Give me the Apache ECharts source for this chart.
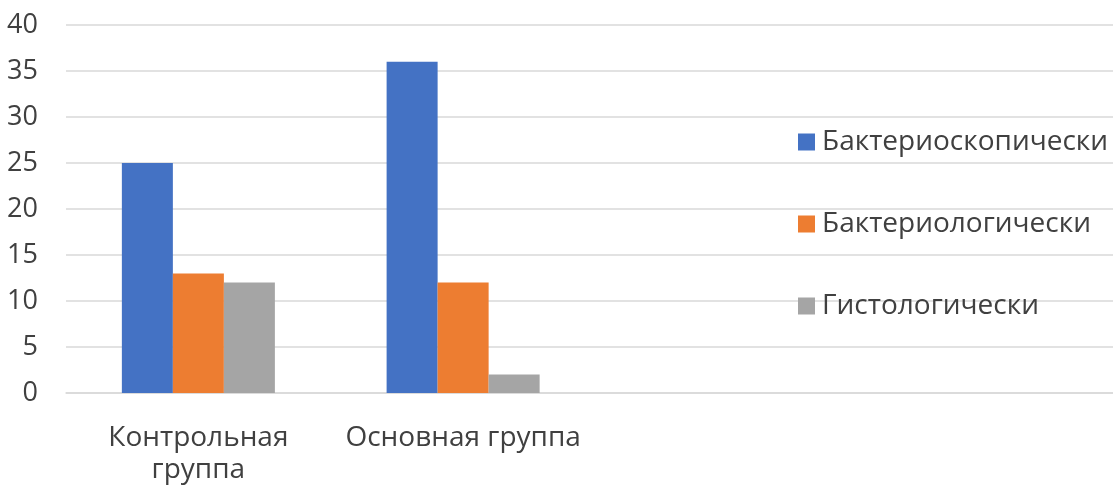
<!DOCTYPE html>
<html>
<head>
<meta charset="utf-8">
<script src="https://cdn.jsdelivr.net/npm/echarts@6/dist/echarts.min.js"></script>
<style>html,body{margin:0;padding:0;background:#fff;overflow:hidden}#c{width:1113px;height:488px}</style>
</head>
<body>
<div id="c"></div>
<script>
const categories = ['Контрольная\nгруппа', 'Основная группа', '', ''];
const seriesNames = ['Бактериоскопически', 'Бактериологически', 'Гистологически'];
const bacterioscopic = [25, 36, null, null];
const bacteriological = [13, 12, null, null];
const histological = [12, 2, null, null];
const yTicks = [0, 5, 10, 15, 20, 25, 30, 35, 40];

const colors = ['#4472C4', '#ED7D31', '#A5A5A5'];
const values = [bacterioscopic, bacteriological, histological];
const font = '"Open Sans", sans-serif';

const chart = echarts.init(document.getElementById('c'));
chart.setOption({
  animation: false,
  backgroundColor: '#fff',
  grid: { left: 66, width: 1059, top: 25, bottom: 95, containLabel: false, outerBoundsMode: 'none' },
  legend: {
    orient: 'vertical', left: 793, top: 122,
    itemWidth: 17, itemHeight: 17, itemGap: 52, icon: 'rect',
    textStyle: { fontFamily: font, fontSize: 28, lineHeight: 30, color: '#404040', padding: [0, 0, 0, 2] },
    data: seriesNames
  },
  xAxis: {
    type: 'category', data: categories,
    axisLine: { lineStyle: { color: '#d9d9d9', width: 1.5 } },
    axisTick: { show: false },
    axisLabel: { fontFamily: font, fontSize: 28, color: '#404040', margin: 29, lineHeight: 32, interval: 0 }
  },
  yAxis: {
    type: 'value', min: yTicks[0], max: yTicks[yTicks.length - 1], interval: 5,
    axisLine: { show: false }, axisTick: { show: false },
    splitLine: { lineStyle: { color: '#d9d9d9', width: 1.5 } },
    axisLabel: { fontFamily: font, fontSize: 27, color: '#404040', margin: 28 }
  },
  series: seriesNames.map((n, i) => ({
    name: n, type: 'bar', data: values[i], barGap: '0%', barCategoryGap: '42.2%',
    itemStyle: { color: colors[i] }
  }))
});
</script>
</body>
</html>
